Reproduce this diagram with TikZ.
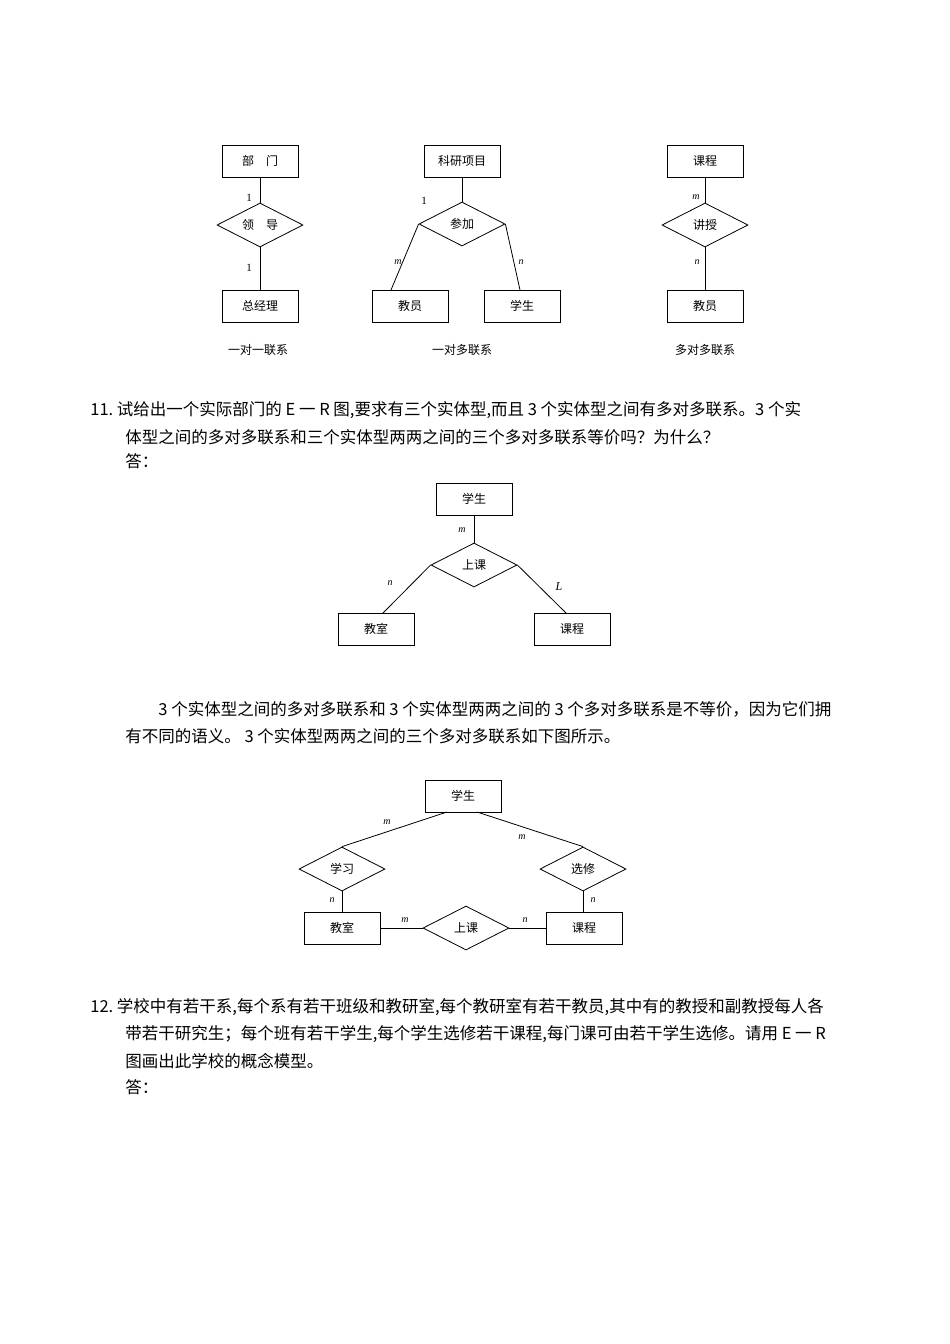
\documentclass[tikz,border=0pt]{standalone}
\usepackage{fontspec}
\setmainfont{Noto Sans CJK SC}
\newfontfamily\latinserif{Liberation Serif}
\usetikzlibrary{shapes.geometric}
\tikzstyle{entity} = [draw, thick, minimum width=76pt, minimum height=32pt, inner sep=0pt, font=\fontsize{12}{12}\selectfont]
\tikzstyle{relation} = [draw, thick, diamond, aspect=2, minimum width=86pt, minimum height=44pt, inner sep=0pt, font=\fontsize{12}{12}\selectfont]
\tikzstyle{card} = [font=\latinserif\itshape\fontsize{10}{10}\selectfont]
\tikzstyle{para} = [anchor=west, inner sep=0pt, font=\fontsize{16.5}{16.5}\selectfont]
\tikzstyle{caption} = [font=\fontsize{12}{12}\selectfont]
\begin{document}
\begin{tikzpicture}[x=1pt, y=-1pt, thick]
    \useasboundingbox (0,0) rectangle (950,1344);
    % One to one.
    \node [entity] (dept) at (260,161) {部\quad 门};
    \node [relation] (lead) at (260,225) {领\quad 导};
    \node [entity] (mgr) at (260,306) {总经理};
    \draw (dept) -- (lead) -- (mgr);
    \node [card, font=\latinserif\fontsize{11}{11}\selectfont] at (249,198) {1};
    \node [card, font=\latinserif\fontsize{11}{11}\selectfont] at (249,268) {1};
    \node [caption] at (258,350) {一对一联系};
    % One to many.
    \node [entity] (proj) at (462,161) {科研项目};
    \node [relation] (join) at (462,224) {参加};
    \node [entity] (tchA) at (410,306) {教员};
    \node [entity] (stuA) at (522,306) {学生};
    \draw (proj) -- (join);
    \draw (join.west) -- (391,290);
    \draw (join.east) -- (520,290);
    \node [card, font=\latinserif\fontsize{11}{11}\selectfont] at (424,201) {1};
    \node [card] at (398,262) {m};
    \node [card] at (521,262) {n};
    \node [caption] at (462,350) {一对多联系};
    % Many to many.
    \node [entity] (crsA) at (705,161) {课程};
    \node [relation] (teach) at (705,225) {讲授};
    \node [entity] (tchB) at (705,306) {教员};
    \draw (crsA) -- (teach) -- (tchB);
    \node [card] at (696,197) {m};
    \node [card] at (697,262) {n};
    \node [caption] at (705,350) {多对多联系};
    % Question 11.
    \node [para] (q11a) at (90,410) {11.\ 试给出一个实际部门的 E 一 R 图,要求有三个实体型,而且 3 个实体型之间有多对多联系。3 个实};
    \node [para] (q11b) at (125,437) {体型之间的多对多联系和三个实体型两两之间的三个多对多联系等价吗？为什么？};
    \node [para] (q11c) at (125,461) {答：};
    % Ternary relationship.
    \node [entity] (stuB) at (474,499) {学生};
    \node [relation] (cls) at (474,565) {上课};
    \node [entity] (roomB) at (376,629) {教室};
    \node [entity] (crsB) at (572,629) {课程};
    \draw (stuB) -- (cls);
    \draw (cls.west) -- (383,613);
    \draw (cls.east) -- (566,613);
    \node [card] at (462,530) {m};
    \node [card] at (390,583) {n};
    \node [card, font=\latinserif\itshape\fontsize{12}{12}\selectfont] at (559,587) {L};
    % Answer text.
    \node [para] (ansa) at (158,709) {3 个实体型之间的多对多联系和 3 个实体型两两之间的 3 个多对多联系是不等价，因为它们拥};
    \node [para] (ansb) at (125,736) {有不同的语义。 3 个实体型两两之间的三个多对多联系如下图所示。};
    % Three binary relationships.
    \node [entity] (stuC) at (463,796) {学生};
    \node [relation] (study) at (342,869) {学习};
    \node [relation] (elect) at (583,869) {选修};
    \node [entity] (roomC) at (342,928) {教室};
    \node [relation] (clsC) at (466,928) {上课};
    \node [entity] (crsC) at (584,928) {课程};
    \draw (447,812) -- (study.north);
    \draw (477,812) -- (elect.north);
    \draw (study) -- (roomC);
    \draw (elect.south) -- (elect.south |- crsC.north);
    \draw (roomC) -- (clsC) -- (crsC);
    \node [card] at (387,822) {m};
    \node [card] at (522,837) {m};
    \node [card] at (332,900) {n};
    \node [card] at (593,900) {n};
    \node [card] at (405,920) {m};
    \node [card] at (525,920) {n};
    % Question 12.
    \node [para] (q12a) at (90,1007) {12.\ 学校中有若干系,每个系有若干班级和教研室,每个教研室有若干教员,其中有的教授和副教授每人各};
    \node [para] (q12b) at (125,1034) {带若干研究生；每个班有若干学生,每个学生选修若干课程,每门课可由若干学生选修。请用 E 一 R};
    \node [para] (q12c) at (125,1061) {图画出此学校的概念模型。};
    \node [para] (q12d) at (125,1087) {答：};
\end{tikzpicture}
\end{document}
